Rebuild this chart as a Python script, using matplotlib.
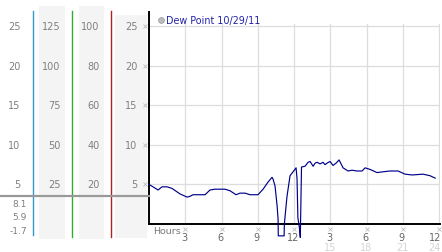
import matplotlib
matplotlib.use("Agg")
import matplotlib.pyplot as plt
from matplotlib import transforms
from matplotlib.lines import Line2D
from matplotlib.patches import Rectangle

# ---------------- data ----------------
hours = [0.0, 0.33, 0.75, 1.08, 1.49, 1.90, 2.57, 3.15, 3.39, 3.64, 4.64, 5.05,
         5.46, 6.29, 6.71, 7.20, 7.53, 7.95, 8.36, 9.02, 9.44, 9.85, 10.18, 10.26,
         10.43, 10.60, 10.68, 10.70, 11.18, 11.20, 11.42, 11.67, 11.92, 12.17,
         12.25, 12.32, 12.45, 12.52, 12.62, 12.91, 13.16, 13.33, 13.58, 13.75,
         13.91, 14.16, 14.40, 14.57, 14.74, 14.98, 15.23, 15.48, 15.73, 16.06,
         16.47, 16.80, 17.22, 17.63, 17.88, 18.29, 18.87, 19.37, 19.95, 20.61,
         21.19, 21.77, 22.68, 23.26, 23.68]
dew = [5.0, 4.7, 4.3, 4.7, 4.7, 4.5, 3.8, 3.4, 3.5, 3.7, 3.7, 4.3,
       4.4, 4.4, 4.2, 3.7, 3.9, 3.9, 3.7, 3.7, 4.4, 5.3, 5.9, 5.7,
       4.8, 2.3, 0.6, -1.5, -1.5, 0.0, 3.5, 6.1, 6.6, 7.1,
       5.7, 0.8, -0.5, -1.7, 7.2, 7.3, 7.8, 7.9, 7.3, 7.7,
       7.8, 7.6, 7.8, 7.5, 7.7, 7.9, 7.4, 7.7, 8.1, 7.1,
       6.7, 6.8, 6.7, 6.7, 7.1, 6.9, 6.5, 6.6, 6.7, 6.7,
       6.3, 6.2, 6.3, 6.1, 5.8]

y_ticks = [25, 20, 15, 10, 5]
col1_labels = ["25", "20", "15", "10", "5"]
col2_labels = ["125", "100", "75", "50", "25"]
col3_labels = ["100", "80", "60", "40", "20"]
col4_labels = ["25", "20", "15", "10", "5"]
stat_labels = ["8.1", "5.9", "-1.7"]
x_ticks = [3, 6, 9, 12, 15, 18, 21, 24]
x_labels = ["3", "6", "9", "12", "3", "6", "9", "12"]
x_labels2 = ["15", "18", "21", "24"]
legend_label = "Dew Point 10/29/11"

# ---------------- figure ----------------
W, H = 442, 253
fig = plt.figure(figsize=(W / 100, H / 100), dpi=100)
fig.patch.set_facecolor("white")

def fx(x):
    return x / W

def fy(y):
    return 1 - y / H

FS = 6.5
gray = "#808080"

ax = fig.add_axes([fx(149), fy(225), fx(440) - fx(149), fy(13) - fy(225)])
ax.set_xlim(0, 24.08)
ax.set_ylim(0, 26.8)
ax.set_facecolor("white")
for s in ["top", "right"]:
    ax.spines[s].set_visible(False)
for s in ["left", "bottom"]:
    ax.spines[s].set_color("black")
    ax.spines[s].set_linewidth(1.4)
ax.set_xticks([])
ax.set_yticks([])

# grid
for v in y_ticks:
    ax.axhline(v, color="#dddddd", lw=0.9, zorder=0)
for h in x_ticks:
    ax.axvline(h, ymin=0, ymax=25.3 / 26.8, color="#dddddd", lw=0.9, zorder=0)

# data line
ax.plot(hours, dew, color="#00008b", lw=0.85, clip_on=False, zorder=3)

# x tick labels
tb = transforms.blended_transform_factory(ax.transData, fig.transFigure)
for i, (h, lab) in enumerate(zip(x_ticks, x_labels)):
    last = i == len(x_ticks) - 1
    ax.text(h + (0.15 if last else -0.1), fy(238.5), lab, transform=tb,
            ha="right" if last else "center", va="center",
            fontsize=FS + 0.5, color="#666666")
    ax.plot([h], [fy(230)], transform=tb, marker="x", ms=2.2, mew=0.6,
            color="#bbbbbb", clip_on=False)
for i, (h, lab) in enumerate(zip(x_ticks[4:], x_labels2)):
    last = i == len(x_labels2) - 1
    ax.text(h + (0.15 if last else 0), fy(248.5), lab, transform=tb,
            ha="right" if last else "center", va="center",
            fontsize=FS + 0.5, color="#d4d4d4")
fig.text(fx(153), fy(232), "Hours", ha="left", va="center",
         fontsize=FS + 0.3, color="#777777")

# legend
fig.lines.append(Line2D([fx(161)], [fy(21)], marker="o", ms=4.2,
                        mfc="#bbbbbb", mec="#999999", mew=0.5,
                        transform=fig.transFigure))
fig.text(fx(166), fy(21), legend_label, ha="left", va="center",
         fontsize=FS + 0.4, color="#2222aa")

# ---------------- left panel ----------------
for x0, x1, y0, y1 in [(39, 65, 7, 240), (79, 104, 7, 240), (115, 147, 16, 239)]:
    fig.patches.append(Rectangle((fx(x0), fy(y1)), fx(x1) - fx(x0), fy(y0) - fy(y1),
                                 transform=fig.transFigure, facecolor="#f4f4f4",
                                 edgecolor="none", zorder=0))

for x, col, y1 in [(33, "#3399cc", 236), (72, "#33aa33", 238), (111, "#aa2222", 238)]:
    fig.lines.append(Line2D([fx(x), fx(x)], [fy(12), fy(y1)], color=col, lw=1.0,
                            transform=fig.transFigure, zorder=2))

fig.lines.append(Line2D([0, fx(149)], [fy(197), fy(197)], color="#999999", lw=1.6,
                        transform=fig.transFigure, zorder=3))

ty = transforms.blended_transform_factory(fig.transFigure, ax.transData)
for labels, xr in [(col1_labels, 20.5), (col2_labels, 60.5),
                   (col3_labels, 99.5), (col4_labels, 137.5)]:
    for v, lab in zip(y_ticks, labels):
        fig.text(fx(xr), v, lab, transform=ty, ha="right", va="center",
                 fontsize=FS + 0.5, color=gray)
for v in y_ticks:
    fig.lines.append(Line2D([fx(144.5)], [v], marker="x", ms=2.2, mew=0.6,
                            color="#bbbbbb", transform=ty))

for yy, lab in zip([205, 218, 232], stat_labels):
    fig.text(fx(27), fy(yy), lab, ha="right", va="center", fontsize=FS, color=gray)

fig.savefig("out.png", dpi=100, facecolor="white")
